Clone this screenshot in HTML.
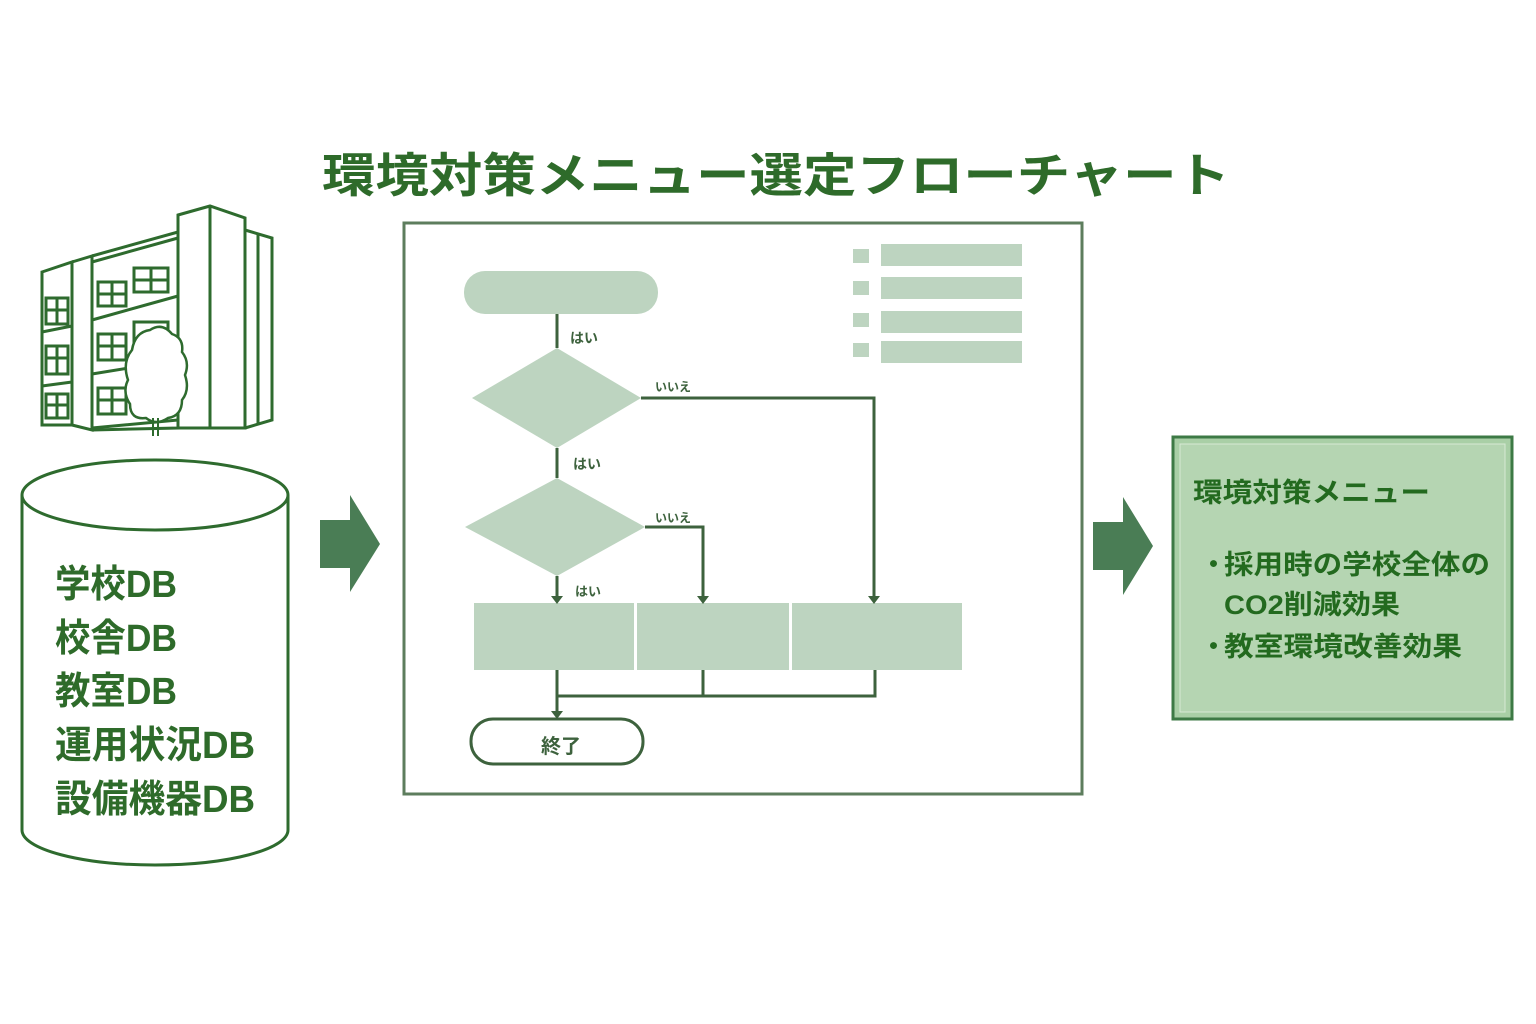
<!DOCTYPE html>
<html><head><meta charset="utf-8"><style>
html,body{margin:0;padding:0;background:#fff;}
svg{display:block;}
text{font-family:"Liberation Sans","Noto Sans CJK JP",sans-serif;font-weight:bold;}
</style></head><body>
<svg width="1536" height="1024" viewBox="0 0 1536 1024" xmlns="http://www.w3.org/2000/svg">
<rect width="1536" height="1024" fill="#fff"/>
<text x="322" y="192" font-size="47" fill="#2e6b2a" textLength="908" lengthAdjust="spacingAndGlyphs">環境対策メニュー選定フローチャート</text>

<g fill="none" stroke="#2e6b2e" stroke-width="3">
<path d="M42 272 L72 262 L72 425 L42 425 Z"/>
<path d="M72 262 L92 256 L92 430 L72 425"/>
<path d="M92 256 L178 232 L178 428 L92 430"/>
<path d="M92 262 L178 238"/>
<path d="M178 215 L210 206 L245 218 L245 428 L178 428 Z"/>
<path d="M210 206 L210 428"/>
<path d="M245 230 L272 238 L272 420 L245 428"/>
<path d="M258 234 L258 424"/>
<path d="M42 332 L72 326 M42 386 L72 382 M92 320 L178 296 M92 374 L178 360 M92 428 L178 420"/>
<rect x="98" y="282" width="28" height="24"/><rect x="134" y="268" width="34" height="24"/>
<rect x="98" y="334" width="28" height="26"/><rect x="134" y="322" width="34" height="26"/>
<rect x="98" y="388" width="28" height="26"/><rect x="46" y="298" width="22" height="26"/>
<rect x="46" y="346" width="22" height="28"/><rect x="46" y="394" width="22" height="24"/>
<path d="M112 282 L112 306 M98 294 L126 294 M151 268 L151 292 M134 280 L168 280 M112 334 L112 360 M98 346 L126 346 M112 388 L112 414 M98 400 L126 400 M57 298 L57 324 M46 310 L68 310 M57 346 L57 374 M46 358 L68 358 M57 394 L57 418 M46 405 L68 405"/>
</g>
<path d="M132 350 Q135 332 150 330 Q162 322 172 334 Q184 338 182 352 Q190 362 185 375 Q190 390 182 400 Q182 416 168 418 Q156 426 146 418 Q130 420 130 404 Q122 392 128 380 Q122 362 132 350 Z" fill="#fff" stroke="#2e6b2e" stroke-width="2.5"/>
<path d="M153 418 L153 436 M158 418 L158 436" stroke="#2e6b2e" stroke-width="2"/>

<g fill="#fff" stroke="#2e6b2e" stroke-width="3">
<path d="M22 495 L22 830 A133 35 0 0 0 288 830 L288 495"/>
<ellipse cx="155" cy="495" rx="133" ry="35"/>
</g>
<g font-size="38" fill="#2e6b2a">
<text x="55" y="597" textLength="122" lengthAdjust="spacingAndGlyphs">学校DB</text>
<text x="55" y="651" textLength="122" lengthAdjust="spacingAndGlyphs">校舎DB</text>
<text x="55" y="704" textLength="122" lengthAdjust="spacingAndGlyphs">教室DB</text>
<text x="55" y="758" textLength="200" lengthAdjust="spacingAndGlyphs">運用状況DB</text>
<text x="55" y="812" textLength="200" lengthAdjust="spacingAndGlyphs">設備機器DB</text>
</g>

<path d="M320 520 L350 520 L350 495 L380 544 L350 592 L350 568 L320 568 Z" fill="#4a7d55"/>
<path d="M1093 522 L1123 522 L1123 497 L1153 546 L1123 595 L1123 570 L1093 570 Z" fill="#4a7d55"/>

<rect x="404" y="223" width="678" height="571" fill="#fff" stroke="#5d7d5d" stroke-width="3"/>
<g fill="#bdd4c0">
<rect x="853" y="249" width="16" height="14"/><rect x="881" y="244" width="141" height="22"/>
<rect x="853" y="281" width="16" height="14"/><rect x="881" y="277" width="141" height="22"/>
<rect x="853" y="313" width="16" height="14"/><rect x="881" y="311" width="141" height="22"/>
<rect x="853" y="343" width="16" height="14"/><rect x="881" y="341" width="141" height="22"/>
</g>
<rect x="464" y="271" width="194" height="43" rx="21" fill="#bdd4c0"/>
<polygon points="557,348 641,398 557,448 472,398" fill="#bdd4c0"/>
<polygon points="557,478 645,527 557,576 465,527" fill="#bdd4c0"/>
<rect x="474" y="603" width="160" height="67" fill="#bdd4c0"/>
<rect x="637" y="603" width="152" height="67" fill="#bdd4c0"/>
<rect x="792" y="603" width="170" height="67" fill="#bdd4c0"/>
<g stroke="#3d623d" stroke-width="3" fill="none">
<path d="M557 314 L557 348 M557 448 L557 478 M557 576 L557 598"/>
<path d="M641 398 L874 398 L874 598"/>
<path d="M645 527 L703 527 L703 598"/>
<path d="M557 670 L557 714 M703 670 L703 696 M875 670 L875 696 L557 696"/>
</g>
<g fill="#3d623d">
<polygon points="551,596 563,596 557,604"/><polygon points="697,596 709,596 703,604"/><polygon points="868,596 880,596 874,604"/><polygon points="551,711 563,711 557,719"/>
</g>
<rect x="471" y="719" width="172" height="45" rx="22" fill="#fff" stroke="#3d623d" stroke-width="3"/>
<text x="541" y="753" font-size="20" fill="#3d623d">終了</text>
<g fill="#3d623d">
<text x="570" y="343" font-size="14">はい</text>
<text x="573" y="469" font-size="14">はい</text>
<text x="575" y="596" font-size="13">はい</text>
<text x="655" y="391" font-size="12">いいえ</text>
<text x="655" y="522" font-size="12">いいえ</text>
</g>

<rect x="1173" y="437" width="339" height="282" fill="#a9cfa6" stroke="#3d7a45" stroke-width="3"/>
<rect x="1180" y="444" width="325" height="268" fill="#b5d5b2" stroke="#d6e9d4" stroke-width="1"/>
<g fill="#236a1f" font-size="27">
<text x="1193" y="502" textLength="237" lengthAdjust="spacingAndGlyphs">環境対策メニュー</text>
<text x="1200" y="574">・</text>
<text x="1224" y="574" textLength="266" lengthAdjust="spacingAndGlyphs">採用時の学校全体の</text>
<text x="1224" y="614" textLength="176" lengthAdjust="spacingAndGlyphs">CO2削減効果</text>
<text x="1200" y="656">・</text>
<text x="1224" y="656" textLength="238" lengthAdjust="spacingAndGlyphs">教室環境改善効果</text>
</g>
</svg>
</body></html>
